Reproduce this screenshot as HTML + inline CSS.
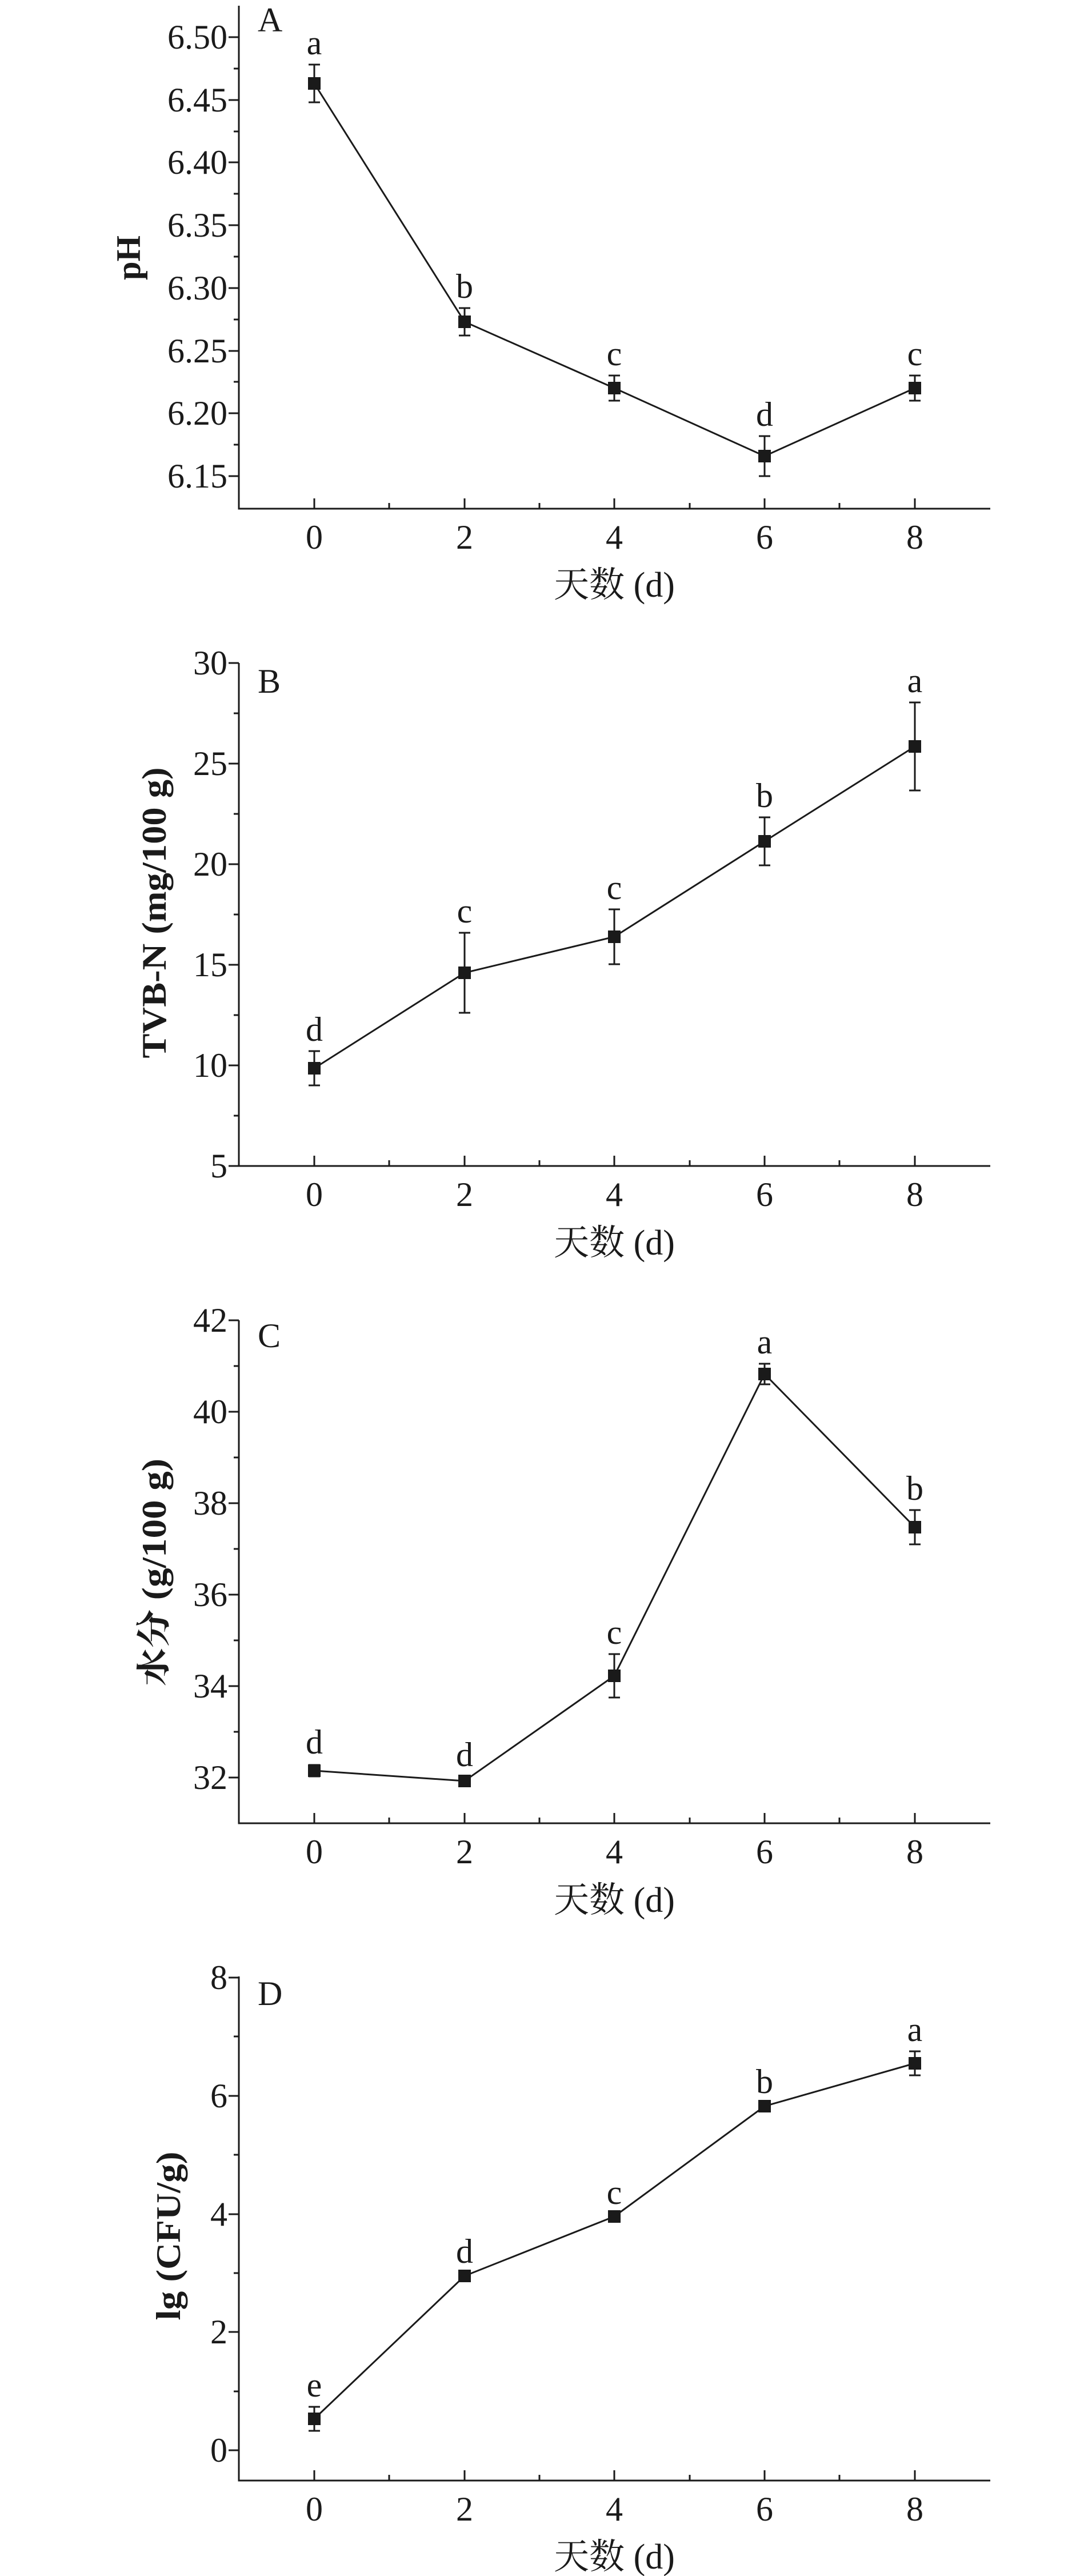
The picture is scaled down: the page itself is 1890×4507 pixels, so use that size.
<!DOCTYPE html>
<html><head><meta charset="utf-8"><style>
html,body{margin:0;padding:0;background:#fff;}
svg{display:block;}
text{font-family:"Liberation Serif","Noto Serif CJK SC","Noto Sans CJK SC",serif;fill:#1a1a1a;font-size:60px;}
.yl{text-anchor:end;}
.xl{text-anchor:middle;}
.lab{font-weight:bold;text-anchor:middle;}
line,polyline,path{stroke:#1a1a1a;stroke-width:3;fill:none;}
rect{fill:#1a1a1a;}
</style></head><body>
<svg width="1890" height="4507" viewBox="0 0 1890 4507" xmlns="http://www.w3.org/2000/svg">

<!-- ========== Panel A ========== -->
<g>
<path d="M418,10 V890 H1733"/>
<path d="M400,65H418M400,175H418M400,284H418M400,394H418M400,504H418M400,614H418M400,723H418M400,833H418"/>
<path d="M409,120H418M409,230H418M409,339H418M409,449H418M409,559H418M409,668H418M409,778H418"/>
<path d="M550,872V890M813,872V890M1075,872V890M1338,872V890M1601,872V890"/>
<path d="M681,880V890M944,880V890M1207,880V890M1469,880V890"/>
<text class="yl" x="398" y="85">6.50</text>
<text class="yl" x="398" y="195">6.45</text>
<text class="yl" x="398" y="304">6.40</text>
<text class="yl" x="398" y="414">6.35</text>
<text class="yl" x="398" y="524">6.30</text>
<text class="yl" x="398" y="634">6.25</text>
<text class="yl" x="398" y="743">6.20</text>
<text class="yl" x="398" y="853">6.15</text>
<text class="xl" x="550" y="960">0</text><text class="xl" x="813" y="960">2</text><text class="xl" x="1075" y="960">4</text><text class="xl" x="1338" y="960">6</text><text class="xl" x="1601" y="960">8</text>
<text class="xl" x="1075" y="1044" style="font-size:62px">天数 (d)</text>
<text x="451" y="55">A</text>
<text class="lab" transform="translate(245,451) rotate(-90)" textLength="78" lengthAdjust="spacingAndGlyphs">pH</text>
<polyline points="550,146 813,563 1075,679 1338,798 1601,679"/>
<path d="M550,113V179M540,113H560M540,179H560 M813,539V587M803,539H823M803,587H823 M1075,657V701M1065,657H1085M1065,701H1085 M1338,763V833M1328,763H1348M1328,833H1348 M1601,657V701M1591,657H1611M1591,701H1611"/>
<rect x="539" y="135" width="22" height="22"/><rect x="802" y="552" width="22" height="22"/><rect x="1064" y="668" width="22" height="22"/><rect x="1327" y="787" width="22" height="22"/><rect x="1590" y="668" width="22" height="22"/>
<text class="xl" x="550" y="95">a</text><text class="xl" x="813" y="521">b</text><text class="xl" x="1075" y="639">c</text><text class="xl" x="1338" y="745">d</text><text class="xl" x="1601" y="639">c</text>
</g>

<!-- ========== Panel B ========== -->
<g>
<path d="M418,1160 V2040 H1733"/>
<path d="M400,1160H418M400,1336H418M400,1512H418M400,1688H418M400,1864H418M400,2040H418"/>
<path d="M409,1248H418M409,1424H418M409,1600H418M409,1776H418M409,1952H418"/>
<path d="M550,2022V2040M813,2022V2040M1075,2022V2040M1338,2022V2040M1601,2022V2040"/>
<path d="M681,2030V2040M944,2030V2040M1207,2030V2040M1469,2030V2040"/>
<text class="yl" x="398" y="1180">30</text>
<text class="yl" x="398" y="1356">25</text>
<text class="yl" x="398" y="1532">20</text>
<text class="yl" x="398" y="1708">15</text>
<text class="yl" x="398" y="1884">10</text>
<text class="yl" x="398" y="2060">5</text>
<text class="xl" x="550" y="2110">0</text><text class="xl" x="813" y="2110">2</text><text class="xl" x="1075" y="2110">4</text><text class="xl" x="1338" y="2110">6</text><text class="xl" x="1601" y="2110">8</text>
<text class="xl" x="1075" y="2195" style="font-size:62px">天数 (d)</text>
<text x="451" y="1212">B</text>
<text class="lab" transform="translate(290,1597) rotate(-90)" textLength="509" lengthAdjust="spacingAndGlyphs">TVB-N (mg/100 g)</text>
<polyline points="550,1869 813,1702 1075,1639 1338,1472 1601,1306"/>
<path d="M550,1839V1899M540,1839H560M540,1899H560 M813,1632V1772M803,1632H823M803,1772H823 M1075,1591V1687M1065,1591H1085M1065,1687H1085 M1338,1430V1514M1328,1430H1348M1328,1514H1348 M1601,1229V1383M1591,1229H1611M1591,1383H1611"/>
<rect x="539" y="1858" width="22" height="22"/><rect x="802" y="1691" width="22" height="22"/><rect x="1064" y="1628" width="22" height="22"/><rect x="1327" y="1461" width="22" height="22"/><rect x="1590" y="1295" width="22" height="22"/>
<text class="xl" x="550" y="1821">d</text><text class="xl" x="813" y="1614">c</text><text class="xl" x="1075" y="1573">c</text><text class="xl" x="1338" y="1412">b</text><text class="xl" x="1601" y="1211">a</text>
</g>

<!-- ========== Panel C ========== -->
<g>
<path d="M418,2310 V3190 H1733"/>
<path d="M400,2310H418M400,2470H418M400,2630H418M400,2790H418M400,2950H418M400,3110H418"/>
<path d="M409,2390H418M409,2550H418M409,2710H418M409,2870H418M409,3030H418"/>
<path d="M550,3172V3190M813,3172V3190M1075,3172V3190M1338,3172V3190M1601,3172V3190"/>
<path d="M681,3180V3190M944,3180V3190M1207,3180V3190M1469,3180V3190"/>
<text class="yl" x="398" y="2330">42</text>
<text class="yl" x="398" y="2490">40</text>
<text class="yl" x="398" y="2650">38</text>
<text class="yl" x="398" y="2810">36</text>
<text class="yl" x="398" y="2970">34</text>
<text class="yl" x="398" y="3130">32</text>
<text class="xl" x="550" y="3260">0</text><text class="xl" x="813" y="3260">2</text><text class="xl" x="1075" y="3260">4</text><text class="xl" x="1338" y="3260">6</text><text class="xl" x="1601" y="3260">8</text>
<text class="xl" x="1075" y="3345" style="font-size:62px">天数 (d)</text>
<text x="451" y="2357">C</text>
<text class="lab" transform="translate(290,2751) rotate(-90)" textLength="398" lengthAdjust="spacingAndGlyphs">水分 (g/100 g)</text>
<polyline points="550,3098 813,3116 1075,2932 1338,2404 1601,2672"/>
<path d="M550,3088V3108M540,3088H560M540,3108H560 M813,3112V3120M803,3112H823M803,3120H823 M1075,2894V2970M1065,2894H1085M1065,2970H1085 M1338,2386V2422M1328,2386H1348M1328,2422H1348 M1601,2642V2702M1591,2642H1611M1591,2702H1611"/>
<rect x="539" y="3087" width="22" height="22"/><rect x="802" y="3105" width="22" height="22"/><rect x="1064" y="2921" width="22" height="22"/><rect x="1327" y="2393" width="22" height="22"/><rect x="1590" y="2661" width="22" height="22"/>
<text class="xl" x="550" y="3068">d</text><text class="xl" x="813" y="3090">d</text><text class="xl" x="1075" y="2876">c</text><text class="xl" x="1338" y="2368">a</text><text class="xl" x="1601" y="2624">b</text>
</g>

<!-- ========== Panel D ========== -->
<g>
<path d="M418,3458 V4340 H1733"/>
<path d="M400,3460H418M400,3667H418M400,3874H418M400,4080H418M400,4287H418"/>
<path d="M409,3563H418M409,3770H418M409,3977H418M409,4184H418"/>
<path d="M550,4322V4340M813,4322V4340M1075,4322V4340M1338,4322V4340M1601,4322V4340"/>
<path d="M681,4330V4340M944,4330V4340M1207,4330V4340M1469,4330V4340"/>
<text class="yl" x="398" y="3480">8</text>
<text class="yl" x="398" y="3687">6</text>
<text class="yl" x="398" y="3894">4</text>
<text class="yl" x="398" y="4100">2</text>
<text class="yl" x="398" y="4307">0</text>
<text class="xl" x="550" y="4410">0</text><text class="xl" x="813" y="4410">2</text><text class="xl" x="1075" y="4410">4</text><text class="xl" x="1338" y="4410">6</text><text class="xl" x="1601" y="4410">8</text>
<text class="xl" x="1075" y="4494" style="font-size:62px">天数 (d)</text>
<text x="451" y="3508">D</text>
<text class="lab" transform="translate(315,3912) rotate(-90)" textLength="295" lengthAdjust="spacingAndGlyphs">lg (CFU/g)</text>
<polyline points="550,4232 813,3982 1075,3878 1338,3685 1601,3610"/>
<path d="M550,4211V4253M540,4211H560M540,4253H560 M813,3977V3987 M1075,3874V3882 M1338,3680V3690 M1601,3589V3631M1591,3589H1611M1591,3631H1611"/>
<rect x="539" y="4221" width="22" height="22"/><rect x="802" y="3971" width="22" height="22"/><rect x="1064" y="3867" width="22" height="22"/><rect x="1327" y="3674" width="22" height="22"/><rect x="1590" y="3599" width="22" height="22"/>
<text class="xl" x="550" y="4193">e</text><text class="xl" x="813" y="3959">d</text><text class="xl" x="1075" y="3856">c</text><text class="xl" x="1338" y="3662">b</text><text class="xl" x="1601" y="3571">a</text>
</g>
</svg>
</body></html>
